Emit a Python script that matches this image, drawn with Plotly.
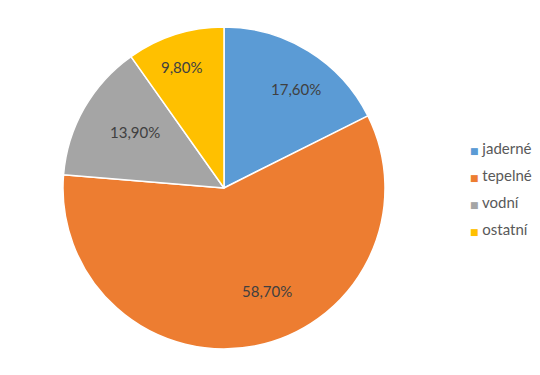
import math
import plotly.graph_objects as go

labels = ["jaderné", "tepelné", "vodní", "ostatní"]
values = [17.6, 58.7, 13.9, 9.8]
colors = ["#5B9BD5", "#ED7D31", "#A5A5A5", "#FFC000"]
texts = [f"{v:.2f}%".replace(".", ",") for v in values]

# layout / styling (label placement like Excel's default)
W, H = 540, 375
cx, cy, r = 224, 188, 161
label_radius = [0.82, 0.76, 0.80, 0.86]
label_nudge_deg = [1.5, -9.7, -4.0, 0.0]
legend_x, legend_y0, legend_dy = 468, 148, 27
FONT = "Lato"
TXT = "#404040"
LEG_TXT = "#595959"

fig = go.Figure()
fig.add_trace(go.Pie(
    labels=labels, values=values, textinfo="none",
    sort=False, direction="clockwise", rotation=0,
    marker=dict(colors=colors, line=dict(color="white", width=1.5)),
    domain=dict(x=[(cx - r) / W, (cx + r) / W], y=[1 - (cy + r) / H, 1 - (cy - r) / H]),
    hoverinfo="label+percent", showlegend=False,
))

# data labels
total = sum(values)
start = 0.0
for i, v in enumerate(values):
    mid = (start + v / 2) / total * 360 + label_nudge_deg[i]
    start += v
    th = math.radians(mid)
    px = cx + label_radius[i] * r * math.sin(th)
    py = cy - label_radius[i] * r * math.cos(th)
    fig.add_annotation(x=px / W, y=1 - py / H, xref="paper", yref="paper",
                       text=texts[i], showarrow=False,
                       font=dict(family=FONT, size=15, color=TXT))

# legend (Excel style: small square right next to the label)
for i, (lab, col) in enumerate(zip(labels, colors)):
    fig.add_annotation(
        x=legend_x / W, y=1 - (legend_y0 + i * legend_dy) / H,
        xref="paper", yref="paper", xanchor="left", yanchor="middle",
        text=f'<span style="color:{col};font-size:9px;font-family:DejaVu Sans">■</span> {lab}',
        showarrow=False, align="left",
        font=dict(family=FONT, size=15, color=LEG_TXT),
    )

fig.update_layout(
    width=W, height=H, margin=dict(l=0, r=0, t=0, b=0),
    paper_bgcolor="white", plot_bgcolor="white",
    showlegend=False,
)
fig.write_html("out.html")
